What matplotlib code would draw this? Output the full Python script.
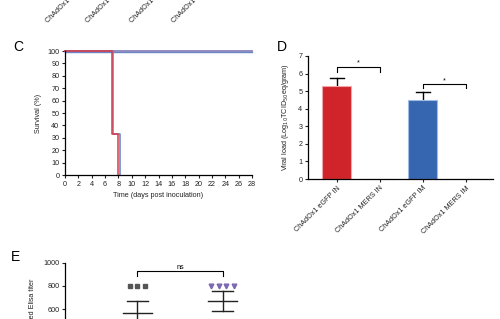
import matplotlib
matplotlib.use("Agg")
import matplotlib.pyplot as plt
import numpy as np

plt.rcParams['font.family'] = ['Liberation Sans', 'DejaVu Sans']

# ---------------- data ----------------
groups = ["ChAdOx1 eGFP IN", "ChAdOx1 MERS IN", "ChAdOx1 eGFP IM", "ChAdOx1 MERS IM"]

# Panel C: survival (Kaplan-Meier steps)
egfp_in_days = [0, 7.0, 8.0]
egfp_in_surv = [100, 33.3, 0]
egfp_im_days = [0, 7.15, 8.3]
egfp_im_surv = [100, 33.3, 0]
mers_in_days = [0, 28]
mers_in_surv = [100, 100]
mers_im_days = [0, 28]
mers_im_surv = [100, 100]
c_xticks = list(range(0, 29, 2))
c_yticks = list(range(0, 101, 10))

# Panel D: viral load
viral_load = [5.3, 0.0, 4.5, 0.0]
viral_err = [0.47, 0.0, 0.47, 0.0]
d_colors = ["#d0242b", "#d0242b", "#3766b1", "#3766b1"]
d_edges = ["#f2a5a8", "#f2a5a8", "#9fbbe6", "#9fbbe6"]

# Panel E: Elisa titers (visible portion)
e_groups = ["ChAdOx1 MERS IN", "ChAdOx1 MERS IM"]
e_points_1 = [800, 800, 800]
e_points_2 = [800, 800, 800, 800]
e_mean = [568, 670]
e_sd = [104, 85]
e_yticks = [600, 800, 1000]

# ---------------- figure ----------------
fig = plt.figure(figsize=(5.0, 3.19), dpi=100)
W, H = 500.0, 319.0

def rect(l, t, r, b):
    return [l / W, 1 - b / H, (r - l) / W, (b - t) / H]

fs = 5.2
lw_sp = 0.9

# top partial labels (from panels above)
top_starts = [(49, 24), (89, 24), (133, 24), (175, 24)]
for (px, py), lab in zip(top_starts, groups):
    fig.text(px / W, 1 - py / H, lab, rotation=45, rotation_mode='anchor',
             ha='left', va='bottom', fontsize=fs, color='#222222')

# ---------------- Panel C ----------------
axc = fig.add_axes(rect(65, 51, 252, 175))
axc.step(mers_in_days, mers_in_surv, where='post', color='#8a82b8', lw=1.3, clip_on=False)
axc.step(mers_im_days, [v - 0.8 for v in mers_im_surv], where='post', color='#6a84c6', lw=1.0, clip_on=False)
axc.step(egfp_im_days, egfp_im_surv, where='post', color='#6180cc', lw=1.1, clip_on=False)
axc.step(egfp_in_days, egfp_in_surv, where='post', color='#dd3b44', lw=1.1, clip_on=False)
axc.set_xlim(0, 28)
axc.set_ylim(0, 100)
axc.set_xticks(c_xticks)
axc.set_yticks(c_yticks)
for s in ['top', 'right']:
    axc.spines[s].set_visible(False)
for s in ['left', 'bottom']:
    axc.spines[s].set_linewidth(lw_sp)
axc.tick_params(labelsize=fs, width=0.8, length=2.5, pad=1.5, colors='#222222')
axc.set_ylabel("Survival (%)", fontsize=fs, labelpad=4, color='#222222')
axc.set_xlabel("Time (days post inoculation)", fontsize=fs, labelpad=3, color='#222222')
fig.text(18 / W, 1 - 47 / H, "C", fontsize=10, ha='center', va='center')

# ---------------- Panel D ----------------
axd = fig.add_axes(rect(308, 56, 493, 179))
x = np.arange(len(groups))
axd.bar(x, viral_load, width=0.67, color=d_colors, edgecolor=d_edges, linewidth=0.8, zorder=2)
for xi, v, e in zip(x, viral_load, viral_err):
    if e > 0:
        axd.plot([xi, xi], [v, v + e], color='black', lw=1.0, zorder=1)
        axd.plot([xi - 0.165, xi + 0.165], [v + e, v + e], color='black', lw=1.0, zorder=3)
axd.set_xlim(-0.67, 3.63)
axd.set_ylim(0, 7)
axd.set_yticks(range(0, 8))
axd.set_xticks(x)
axd.set_xticklabels(groups, rotation=45, ha='right', rotation_mode='anchor')
for s in ['top', 'right']:
    axd.spines[s].set_visible(False)
for s in ['left', 'bottom']:
    axd.spines[s].set_linewidth(lw_sp)
axd.tick_params(labelsize=fs, width=0.8, length=2.5, pad=1.5, colors='#222222')
axd.set_ylabel("Viral load (Log$_{10}$TCID$_{50}$eq/gram)", fontsize=fs, labelpad=5, color='#222222')

def bracket(ax, x1, x2, y, h, text, fsz):
    ax.plot([x1, x1, x2, x2], [y - h, y, y, y - h], color='black', lw=0.8, clip_on=False)
    ax.text((x1 + x2) / 2, y, text, ha='center', va='bottom', fontsize=fsz)

bracket(axd, 0, 1, 6.4, 0.32, "*", fs)
bracket(axd, 2, 3, 5.4, 0.24, "*", fs)
fig.text(282 / W, 1 - 47 / H, "D", fontsize=10, ha='center', va='center')

# ---------------- Panel E ----------------
axe = fig.add_axes(rect(65, 262.7, 295, 378.7))
axe.set_xlim(-0.85, 1.85)
axe.set_ylim(0, 1000)
axe.set_yticks(e_yticks)
axe.set_xticks([])
for s in ['top', 'right', 'bottom']:
    axe.spines[s].set_visible(False)
axe.spines['left'].set_linewidth(lw_sp)
axe.tick_params(labelsize=fs, width=0.8, length=2.5, pad=1.5, colors='#222222')
axe.set_ylabel("Log transformed Elisa titer", fontsize=fs, labelpad=5, color='#222222')

def swarm_offsets(n, step=0.088):
    return (np.arange(n) - (n - 1) / 2) * step

for gi, (pts, mk, col) in enumerate([(e_points_1, 's', '#555555'), (e_points_2, 'v', '#7d68b3')]):
    offs = swarm_offsets(len(pts))
    axe.plot(gi + offs, pts, ls='none', marker=mk, ms=3.4, color=col, mec=col, clip_on=False)
    m, sd = e_mean[gi], e_sd[gi]
    axe.plot([gi, gi], [m - sd, m + sd], color='#222222', lw=1.0, clip_on=False)
    axe.plot([gi - 0.12, gi + 0.12], [m + sd, m + sd], color='#222222', lw=1.0, clip_on=False)
    axe.plot([gi - 0.12, gi + 0.12], [m - sd, m - sd], color='#222222', lw=1.0, clip_on=False)
    axe.plot([gi - 0.17, gi + 0.17], [m, m], color='#222222', lw=1.0, clip_on=False)

bracket(axe, 0, 1, 930, 45, "ns", fs)
fig.text(15 / W, 1 - 257 / H, "E", fontsize=10, ha='center', va='center')

fig.savefig("out.png", dpi=100)
